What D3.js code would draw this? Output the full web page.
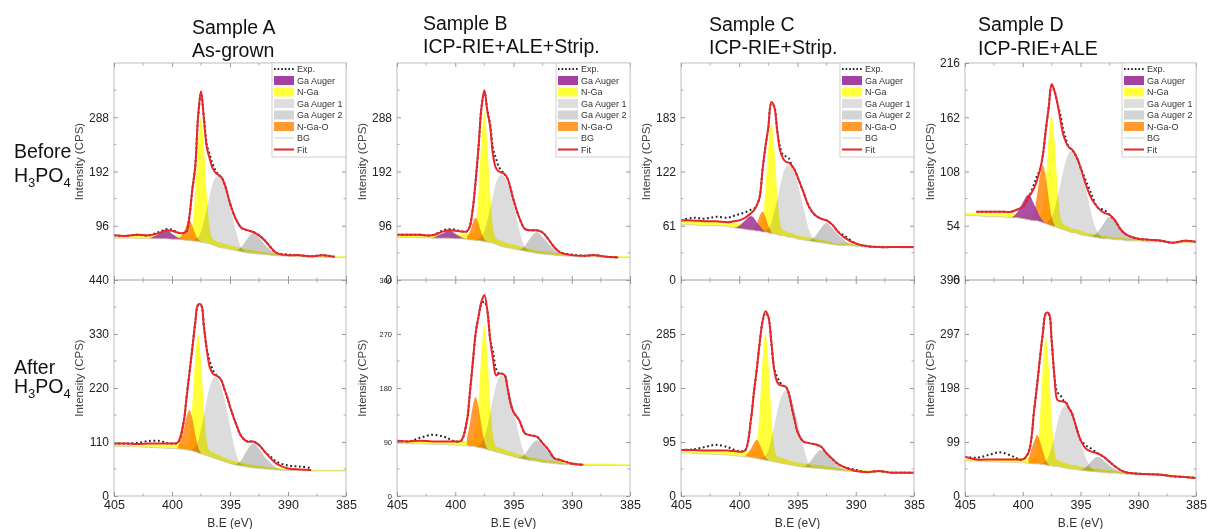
<!DOCTYPE html>
<html><head><meta charset="utf-8">
<script src="https://cdn.jsdelivr.net/npm/d3@7"></script>
<style>
body{margin:0;background:#fff;}
svg{display:block;font-family:"Liberation Sans",Arial,sans-serif;}
</style></head><body>
<svg id="chart" width="1207" height="529"></svg>
<script>
// ---------------- DATA ----------------
// binding energy grid (eV)
const energy = [405,404,403,402,401,400.5,400,399.5,399,398.75,398.5,398.25,398,397.75,397.5,397.25,397,396.75,396.5,396.25,396,395.75,395.5,395.25,395,394.5,394,393.5,393,392.5,392,391.5,391,390,389,388,387,386,385];

const sampleNames = ["Sample A","Sample B","Sample C","Sample D"];
const sampleTreatments = ["As-grown","ICP-RIE+ALE+Strip.","ICP-RIE+Strip.","ICP-RIE+ALE"];
const rowLabels = ["Before","After"];
const xTicks = [405,400,395,390,385];
const yMaxTop = [384,384,244,216];
const yMaxBottom = [440,360,380,396];
const yTicksTop = [[96,192,288],[0,96,192,288],[0,61,122,183],[0,54,108,162,216]];
const yTicksBottom = [[0,110,220,330,440],[0,90,180,270,360],[0,95,190,285],[0,99,198,297,396]];
const legendItems = ["Exp.","Ga Auger","N-Ga","Ga Auger 1","Ga Auger 2","N-Ga-O","BG","Fit"];

// panel order: A-before, B-before, C-before, D-before, A-after, B-after, C-after, D-after
const bgCps = [
 [74,74,74,73,73,73,72,72,71,70,70,69,69,68,67,66,65,64,62,60,58,57,56,55,54,52,50,48,47,46,45,44,43,42,41,41,40,40,40],
 [75,75,75,74,74,74,73,73,72,71,71,70,70,69,68,67,66,65,63,61,59,58,57,56,55,53,51,49,47,46,45,44,43,42,41,41,40,40,40],
 [62,62,61,61,60,59,58,57,56,56,55,55,54,54,53,52,52,51,50,50,49,48,48,47,46,45,44,43,42,41,40,39,39,38,37,37,37,36,36],
 [64,64,63,63,62,62,61,60,59,59,58,57,56,55,54,53,52,51,50,49,48,47,47,46,45,44,43,42,41,41,40,40,39,39,38,38,37,37,37],
 [101,101,100,99,98,97,97,96,95,94,93,92,90,88,86,84,82,80,78,76,74,72,70,68,66,63,61,59,57,56,55,54,53,52,52,51,51,51,51],
 [88,87,87,86,86,85,85,84,84,83,83,82,81,80,79,77,76,75,73,72,71,69,68,67,65,63,61,59,58,56,55,54,53,52,51,51,51,51,51],
 [76,75,74,73,72,71,70,69,68,67,66,65,64,63,62,61,60,59,58,57,56,55,54,53,52,51,50,49,48,47,46,45,44,43,42,42,41,41,41],
 [64,64,63,62,62,61,61,60,59,59,58,58,57,56,55,54,54,53,52,51,50,49,49,48,47,46,45,44,43,42,42,41,40,39,38,37,36,35,33]
];
// component heights above BG
const ngaCps = [
 [3,4,4,5,6,7,7,8,9,10,11,27,84,172,221,172,84,27,11,10,9,9,8,8,7,7,6,6,5,5,4,4,4,3,3,3,3,2,2],
 [3,4,5,5,6,7,8,8,10,10,11,27,87,178,228,178,87,27,11,10,10,9,8,8,8,7,6,6,5,5,5,4,4,3,3,3,3,2,2],
 [4,4,5,5,6,6,6,6,6,6,7,8,15,47,97,124,97,47,15,6,6,5,5,4,4,4,4,3,3,3,2,2,2,2,2,2,1,1,1],
 [3,3,4,4,5,5,5,6,6,6,7,13,42,86,110,86,42,13,6,5,5,4,4,4,4,3,3,3,3,2,2,2,2,2,2,1,1,1,1],
 [4,4,5,6,7,8,8,10,11,12,29,92,190,243,190,92,29,12,11,10,10,9,8,8,8,7,7,6,6,5,5,4,4,4,3,3,3,3,2],
 [3,4,4,5,6,6,7,7,8,9,10,25,78,161,206,161,78,25,10,9,8,8,7,7,7,6,6,5,5,5,4,4,4,3,3,3,3,2,2],
 [4,4,5,6,6,7,7,9,10,11,27,85,174,223,174,85,27,11,10,9,9,8,7,7,7,6,6,6,6,5,5,4,4,4,3,3,3,3,2],
 [4,4,5,6,7,8,8,10,12,28,89,183,235,183,89,28,12,11,10,9,8,8,8,7,7,7,6,6,5,5,4,4,4,3,3,3,3,2,2]
];
// [start energy, heights along the grid]
const ngaOCps = [
 [399.5,[1,13,27,36,27,13,4,1]],
 [399,[4,14,30,40,30,14,4,1]],
 [398.75,[2,8,17,23,17,8,2]],
 [399,[9,26,46,57,46,26,9,2]],
 [399.5,[3,40,66,82,66,37,12,2]],
 [399,[12,37,66,83,66,37,12,2]],
 [399.5,[1,15,26,33,26,15,5,1]],
 [399.5,[8,42,53,42,24,8,2]]
];
const gaAugerCps = [
 [402,[0,10,16,10,3,0]],
 [402,[0,9,14,9,3,0]],
 [400.5,[0,3,10,16,14,10,6,3,0]],
 [401,[0,5,16,25,16,10,5,2,0]],
 null, null, null, null
];
const auger1Cps = [
 [398.25,[0,3,8,19,38,61,86,108,122,127,123,114,99,79,36,6,0]],
 [398.25,[0,3,8,19,38,61,86,108,122,127,123,114,99,79,36,6,0]],
 [398,[0,2,5,12,24,39,55,69,78,81,79,73,63,37,12,2,0]],
 [398,[1,4,9,17,30,44,58,70,79,82,81,76,68,45,20,5,0]],
 [398.5,[0,3,10,25,50,80,114,142,160,167,162,150,130,104,77,25,3,0]],
 [398.25,[0,3,8,20,39,62,88,111,125,130,126,117,101,81,36,7,0]],
 [398.25,[0,3,8,19,39,62,88,110,124,129,125,116,101,80,36,6,0]],
 [398.5,[0,2,7,17,35,56,79,99,111,116,113,104,90,72,53,22,5,0]]
];
const auger2Cps = [
 [395,[0,1,9,25,36,29,18,9,4,0]],
 [395,[0,1,10,27,38,30,19,10,4,0]],
 [394.5,[0,1,6,16,23,18,12,6,1,0]],
 [394.5,[0,1,6,15,22,18,11,6,1,0]],
 [395,[0,2,13,35,50,40,25,13,5,0]],
 [395,[0,1,9,25,35,28,18,9,4,0]],
 [395,[0,1,8,23,33,26,17,8,3,0]],
 [395,[0,7,20,28,22,14,7,3,1,0]]
];
const fitCps = [
 [79,78,80,79,84,88,87,84,83,86,112,160,200,289,334,285,235,215,198,190,186,182,172,155,136,108,92,88,85,79,70,58,48,44,44,42,44,41,null],
 [80,80,80,79,86,88,87,86,86,95,125,175,235,305,336,300,271,220,198,192,190,187,179,162,142,110,90,88,88,84,72,58,49,44,43,44,41,40,null],
 [67,67,66,66,65,66,67,70,75,78,84,93,124,150,172,200,195,169,146,137,133,132,129,124,116,99,82,73,69,67,62,54,48,41,38,37,37,37,37],
 [null,68,68,68,68,70,73,82,92,100,110,125,150,172,195,188,176,160,145,137,132,130,126,120,112,94,80,72,67,65,59,50,45,41,40,39,37,39,38],
 [107,107,106,107,107,107,107,109,150,200,250,300,352,390,390,345,298,263,250,246,243,236,219,202,182,148,121,111,111,104,90,77,66,56,54,53,null,null,null],
 [92,91,92,91,91,91,91,92,125,171,221,271,299,324,335,310,260,227,201,204,204,201,179,154,140,126,104,101,99,88,77,63,60,54,52,null,null,null,null],
 [81,81,80,80,80,79,78,80,134,181,222,269,307,325,315,272,222,201,195,194,192,181,157,134,113,96,93,91,87,75,65,56,51,44,42,44,41,41,41],
 [72,67,67,67,67,67,67,80,160,205,255,300,335,335,286,218,176,174,173,171,161,152,136,118,103,86,81,78,72,63,54,47,43,41,40,39,36,35,33]
];
const expCps = [
 [79,78,80,79,86,90,89,84,83,86,112,160,200,289,330,288,240,222,205,194,186,182,172,155,136,108,92,88,85,79,70,58,48,45,44,42,44,41,null],
 [80,80,80,79,88,90,89,86,86,95,125,175,235,305,333,302,275,232,215,200,193,187,179,162,142,110,90,88,88,84,72,58,49,45,43,44,41,40,null],
 [67,70,69,71,70,72,74,76,79,80,84,93,124,150,172,198,195,169,150,141,139,137,129,124,116,99,82,73,69,67,62,54,50,41,38,37,37,37,37],
 [null,68,68,68,68,70,73,82,96,104,110,125,150,172,193,188,176,165,150,140,132,130,126,120,112,98,84,72,70,65,59,50,45,41,40,39,37,39,38],
 [107,107,108,112,112,108,107,109,150,200,250,300,352,388,388,345,300,275,258,248,243,236,219,202,182,148,121,111,111,104,90,80,70,62,60,57,null,null,null],
 [92,91,97,102,99,95,91,92,125,171,221,271,299,320,324,310,262,240,212,204,204,201,179,154,140,126,104,101,99,88,77,63,60,54,52,null,null,null,null],
 [81,82,86,90,86,82,79,80,134,181,222,269,307,322,315,272,225,210,200,194,192,181,157,134,113,96,93,91,87,75,65,56,51,46,42,44,41,41,41],
 [72,70,75,80,74,69,67,80,160,205,255,300,333,333,286,218,190,185,176,171,161,152,136,118,103,92,86,78,72,63,54,47,43,41,40,39,36,35,33]
];

// ---------------- LAYOUT / STYLE ----------------
const frameX = [[114,346],[397,630],[681,914],[965,1196]];
const frameY = [[63,280],[280,496]];
const titleX = [192,423,709,978];
const title1Y = [34,30,31,31];
const title2Y = [57,53,54,55];
const colors = {gaAuger:"#a4409f", nga:"#ffff3a", aug1:"#dcdcdc", aug2:"#c9c9c9", ngao:"#ff9b30", bg:"#c8c8c8", fit:"#e8262b", exp:"#222"};
const font = '"Liberation Sans", Arial, sans-serif';

const svg = d3.select("#chart");

function sparsePts(spec){
  if(!spec) return null;
  const i0 = energy.indexOf(spec[0]);
  return spec[1].map((v,k)=>({i:i0+k, v}));
}

for(let p=0;p<8;p++){
  const s = p%4, r = Math.floor(p/4);
  const x = d3.scaleLinear().domain([405,385]).range(frameX[s]);
  const ymax = r===0 ? yMaxTop[s] : yMaxBottom[s];
  const y = d3.scaleLinear().domain([0,ymax]).range([frameY[r][1], frameY[r][0]]);
  const g = svg.append("g");
  const bg = bgCps[p];

  const comps = [
    {pts: sparsePts(auger1Cps[p]), c: colors.aug1, blend:true},
    {pts: sparsePts(auger2Cps[p]), c: colors.aug2, blend:true},
    {pts: sparsePts([405, ngaCps[p]]), c: colors.nga, blend:true},
    {pts: sparsePts(ngaOCps[p]), c: colors.ngao, blend:true},
    {pts: sparsePts(gaAugerCps[p]), c: colors.gaAuger, blend:false}
  ];
  const area = d3.area()
    .x(d=>x(energy[d.i])).y0(d=>y(bg[d.i])).y1(d=>y(bg[d.i]+d.v))
    .curve(d3.curveMonotoneX);
  const fg = g.append("g").style("isolation","isolate");
  comps.forEach(c=>{
    if(!c.pts) return;
    const pa = fg.append("path").attr("d", area(c.pts)).attr("fill", c.c);
    if(c.blend) pa.style("mix-blend-mode","multiply");
    else pa.attr("fill-opacity",0.92);
  });
  // background line
  g.append("path")
    .attr("d", d3.line().x((d,i)=>x(energy[i])).y(d=>y(d)).curve(d3.curveMonotoneX)(bg))
    .attr("fill","none").attr("stroke",colors.bg).attr("stroke-width",0.8);
  // experimental (dotted)
  const ln = d3.line().defined(d=>d!=null).x((d,i)=>x(energy[i])).y(d=>y(d)).curve(d3.curveCatmullRom.alpha(0.5));
  g.append("path").attr("d", ln(expCps[p])).attr("fill","none")
    .attr("stroke",colors.exp).attr("stroke-width",2).attr("stroke-dasharray","1.8,2.6");
  // fit
  g.append("path").attr("d", ln(fitCps[p])).attr("fill","none")
    .attr("stroke",colors.fit).attr("stroke-width",2);

  // frame
  g.append("rect").attr("x",frameX[s][0]).attr("y",frameY[r][0])
    .attr("width",frameX[s][1]-frameX[s][0]).attr("height",frameY[r][1]-frameY[r][0])
    .attr("fill","none").attr("stroke","#bdbdbd").attr("stroke-width",1);

  // y ticks
  const yt = r===0 ? yTicksTop[s] : yTicksBottom[s];
  const step = yt[1]-yt[0];
  const minorY = [];
  for(let v=yt[0]+step/2; v<ymax; v+=step) minorY.push(v);
  const fsY = (r===1 && s===1) ? 7.5 : 12;
  const yAx = g.append("g").attr("transform",`translate(${frameX[s][0]},0)`)
    .call(d3.axisLeft(y).tickValues(yt).tickSize(-4).tickPadding(5).tickFormat(d3.format("d")));
  yAx.select(".domain").remove();
  yAx.selectAll("line").attr("stroke","#999");
  yAx.selectAll("text").attr("font-size",fsY).attr("font-family",font).attr("fill","#222");
  const yAxR = g.append("g").attr("transform",`translate(${frameX[s][1]},0)`)
    .call(d3.axisRight(y).tickValues(yt).tickSize(-4).tickFormat(""));
  yAxR.select(".domain").remove(); yAxR.selectAll("line").attr("stroke","#999");
  [frameX[s][0], frameX[s][1]].forEach((xx,k)=>{
    g.selectAll(null).data(minorY).enter().append("line")
      .attr("x1",xx).attr("x2",xx + (k===0?2.5:-2.5))
      .attr("y1",d=>y(d)).attr("y2",d=>y(d)).attr("stroke","#aaa");
  });

  // x ticks
  const xb = g.append("g").attr("transform",`translate(0,${frameY[r][1]})`)
    .call(d3.axisBottom(x).tickValues(xTicks).tickSize(-4).tickPadding(4).tickFormat(r===1? d3.format("d") : ""));
  xb.select(".domain").remove(); xb.selectAll("line").attr("stroke","#999");
  xb.selectAll("text").attr("font-size",12.5).attr("font-family",font).attr("fill","#222");
  const xt = g.append("g").attr("transform",`translate(0,${frameY[r][0]})`)
    .call(d3.axisTop(x).tickValues(xTicks).tickSize(-4).tickFormat(""));
  xt.select(".domain").remove(); xt.selectAll("line").attr("stroke","#999");
  const minorX = [402.5,397.5,392.5,387.5];
  [frameY[r][0], frameY[r][1]].forEach((yy,k)=>{
    g.selectAll(null).data(minorX).enter().append("line")
      .attr("y1",yy).attr("y2",yy + (k===0?2.5:-2.5))
      .attr("x1",d=>x(d)).attr("x2",d=>x(d)).attr("stroke","#aaa");
  });

  // y label
  const cy = (frameY[r][0]+frameY[r][1])/2 - 10;
  g.append("text").attr("transform",`translate(${frameX[s][0]-31},${cy}) rotate(-90)`)
    .attr("text-anchor","middle").attr("font-size",11.5).attr("fill","#444")
    .attr("font-family",font).text("Intensity (CPS)");

  if(r===1){
    g.append("text").attr("x",(frameX[s][0]+frameX[s][1])/2).attr("y",527)
      .attr("text-anchor","middle").attr("font-size",12).attr("fill","#333")
      .attr("font-family",font).text("B.E (eV)");
  }

  // legend (top row)
  if(r===0){
    const lx = frameX[s][1]-74, ly = frameY[0][0];
    const lg = g.append("g");
    lg.append("rect").attr("x",lx).attr("y",ly).attr("width",74).attr("height",94)
      .attr("fill","#fff").attr("stroke","#cfcfcf");
    const swatch = [null, colors.gaAuger, colors.nga, "#dedede", "#d4d4d4", colors.ngao, null, null];
    legendItems.forEach((name,k)=>{
      const yy = ly + 6 + k*11.5;
      if(k===0){
        lg.append("line").attr("x1",lx+2).attr("x2",lx+22).attr("y1",yy).attr("y2",yy)
          .attr("stroke","#222").attr("stroke-width",1.8).attr("stroke-dasharray","1.6,2");
      } else if(k===6){
        lg.append("line").attr("x1",lx+2).attr("x2",lx+22).attr("y1",yy).attr("y2",yy)
          .attr("stroke","#cfcfcf").attr("stroke-width",1);
      } else if(k===7){
        lg.append("line").attr("x1",lx+2).attr("x2",lx+22).attr("y1",yy).attr("y2",yy)
          .attr("stroke",colors.fit).attr("stroke-width",2);
      } else {
        lg.append("rect").attr("x",lx+2).attr("y",yy-4.5).attr("width",20).attr("height",9)
          .attr("fill",swatch[k]);
      }
      lg.append("text").attr("x",lx+25).attr("y",yy).attr("dy","0.35em")
        .attr("font-size",9).attr("fill","#333").attr("font-family",font).text(name);
    });
  }
}

// titles
sampleNames.forEach((n,s)=>{
  svg.append("text").attr("x",titleX[s]).attr("y",title1Y[s]).attr("font-size",19.5)
    .attr("font-family",font).attr("fill","#111").text(n);
  svg.append("text").attr("x",titleX[s]).attr("y",title2Y[s]).attr("font-size",19.5)
    .attr("font-family",font).attr("fill","#111").text(sampleTreatments[s]);
});

// row labels
const rowLabelY = [[158,182],[374,393]];
rowLabels.forEach((lab,r)=>{
  svg.append("text").attr("x",14).attr("y",rowLabelY[r][0]).attr("font-size",19.5)
    .attr("font-family",font).attr("fill","#111").text(lab);
  const t = svg.append("text").attr("x",14).attr("y",rowLabelY[r][1]).attr("font-size",19.5)
    .attr("font-family",font).attr("fill","#111");
  t.append("tspan").text("H");
  t.append("tspan").attr("dy",5).attr("font-size",13).text("3");
  t.append("tspan").attr("dy",-5).text("PO");
  t.append("tspan").attr("dy",5).attr("font-size",13).text("4");
});
</script>
</body></html>
